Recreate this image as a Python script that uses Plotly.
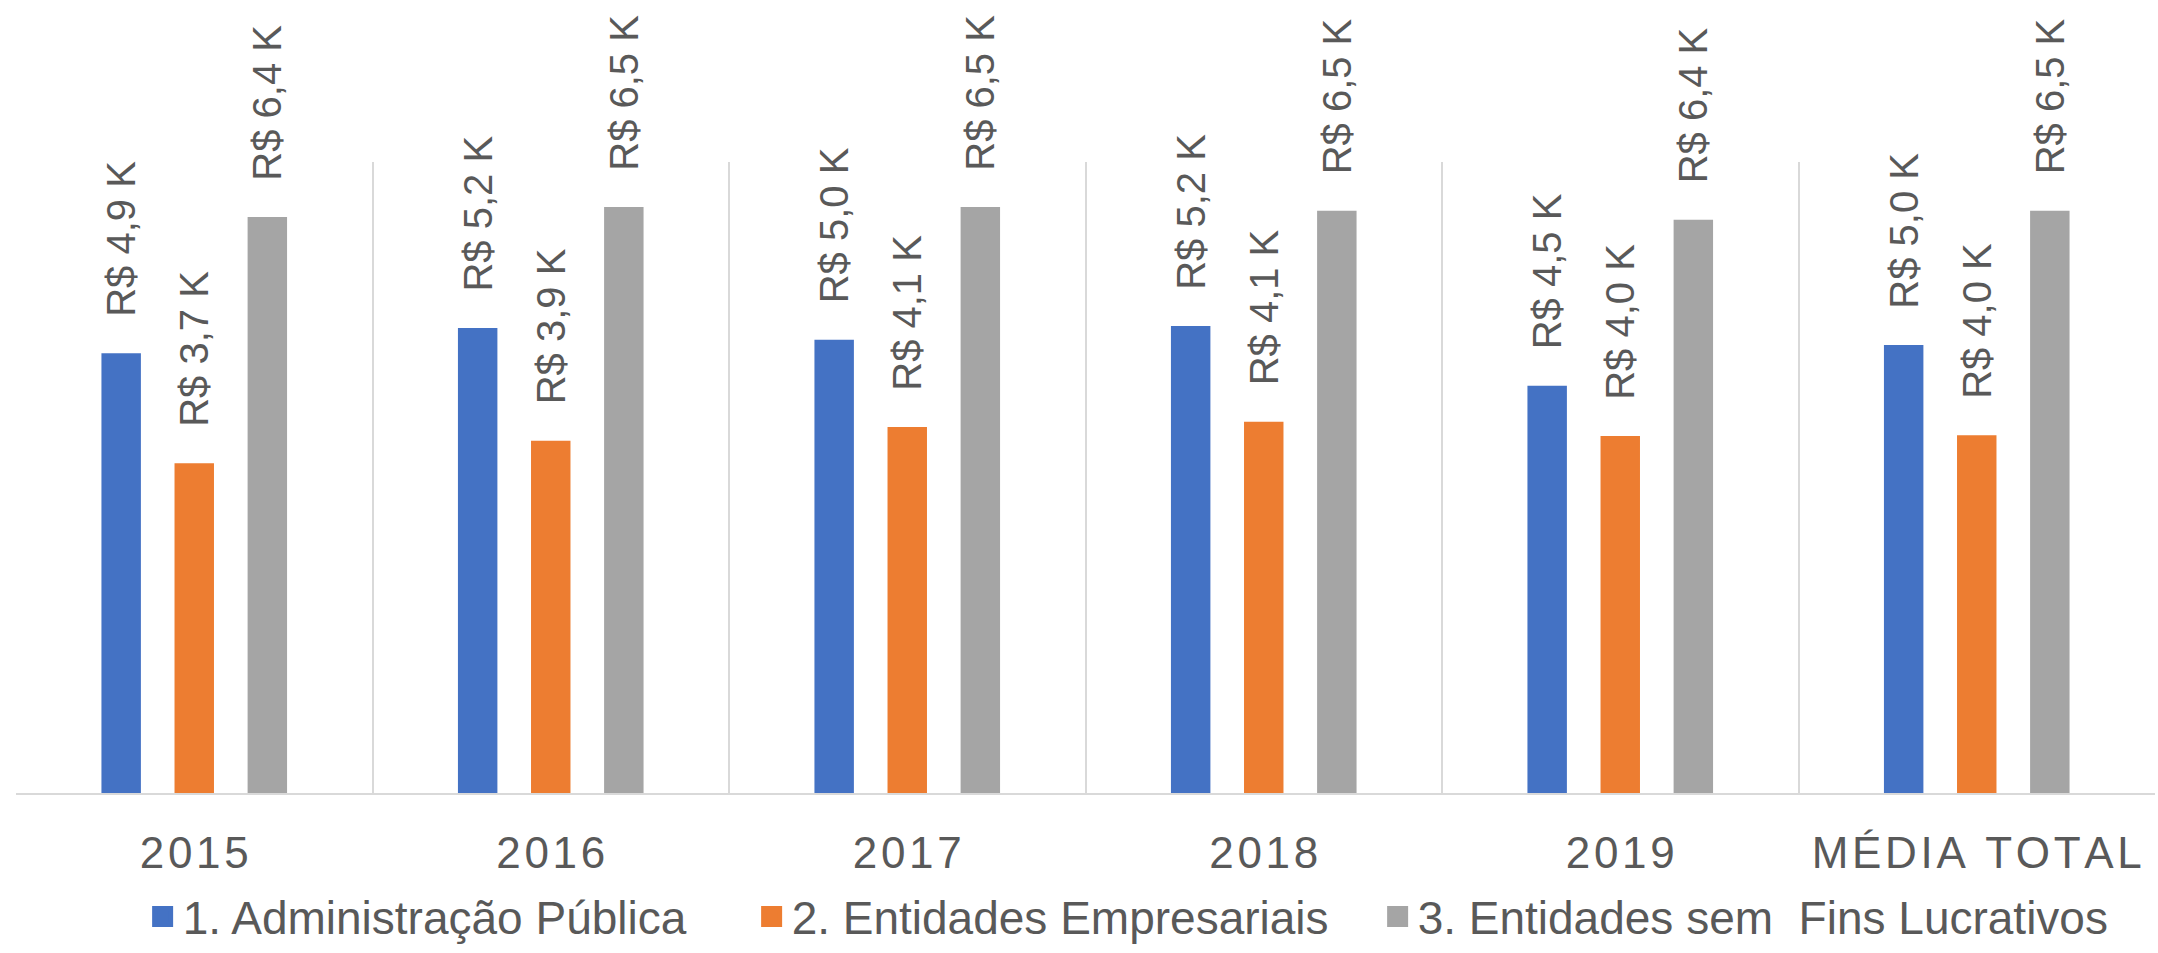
import plotly.graph_objects as go

categories = ["2015", "2016", "2017", "2018", "2019", "MÉDIA TOTAL"]
series_names = ["1. Administração Pública", "2. Entidades Empresariais", "3. Entidades sem\u00a0 Fins Lucrativos"]
admin_publica = [4880, 5160, 5030, 5180, 4520, 4970]
entidades_empresariais = [3660, 3910, 4060, 4120, 3960, 3970]
sem_fins_lucrativos = [6390, 6500, 6500, 6460, 6360, 6460]
colors = ["#4472C4", "#ED7D31", "#A5A5A5"]
legend_widths = [564, 581, 720]

TEXT = "#595959"
FONT = "Liberation Sans"


def label(v):
    return "\u00a0\u00a0\u00a0" + "R$ " + f"{v/1000:.1f}".replace(".", ",") + " K"


def spaced(s):
    return "\u200a".join(s)


fig = go.Figure()
series = [admin_publica, entidades_empresariais, sem_fins_lucrativos]
for i, (name, vals, col) in enumerate(zip(series_names, series, colors)):
    fig.add_trace(go.Bar(
        x=categories, y=vals, name=name,
        marker=dict(color=col, line=dict(width=0)),
        text=[label(v) for v in vals],
        textposition="outside", textangle=-90,
        textfont=dict(family=FONT, size=40, color=TEXT),
        cliponaxis=False, constraintext="none",
        legendgroup=f"s{i}", showlegend=False,
    ))
# legend entries (square swatches like the original)
for i, (name, col, lw) in enumerate(zip(series_names, colors, legend_widths)):
    fig.add_trace(go.Scatter(
        x=[None], y=[None], mode="markers", name=name,
        marker=dict(symbol="square", size=16, color=col, line=dict(color=col, width=5)),
        legendgroup=f"s{i}", showlegend=True, legendwidth=lw, hoverinfo="skip",
    ))

fig.update_layout(
    width=2158, height=953,
    margin=dict(l=16, r=3, t=162, b=157),
    paper_bgcolor="white", plot_bgcolor="white",
    barmode="group", bargap=0.385, bargroupgap=0.46,
    font=dict(family=FONT, color=TEXT),
    showlegend=True,
    legend=dict(
        orientation="h", x=0.0592, xanchor="left",
        yref="container", y=-0.009, yanchor="bottom",
        font=dict(family=FONT, size=46, color=TEXT),
        traceorder="normal", itemclick=False, itemdoubleclick=False,
    ),
    xaxis=dict(
        tickmode="array", tickvals=categories, ticktext=[spaced(c) for c in categories],
        tickson="boundaries", ticks="", showgrid=True, gridcolor="#D9D9D9", gridwidth=1.5,
        showline=True, linecolor="#D9D9D9", linewidth=2,
        tickfont=dict(family=FONT, size=44, color=TEXT),
        ticklabelstandoff=20,
    ),
    yaxis=dict(range=[0, 7000], visible=False, showgrid=False, zeroline=False),
)

fig.write_html("out.html")
